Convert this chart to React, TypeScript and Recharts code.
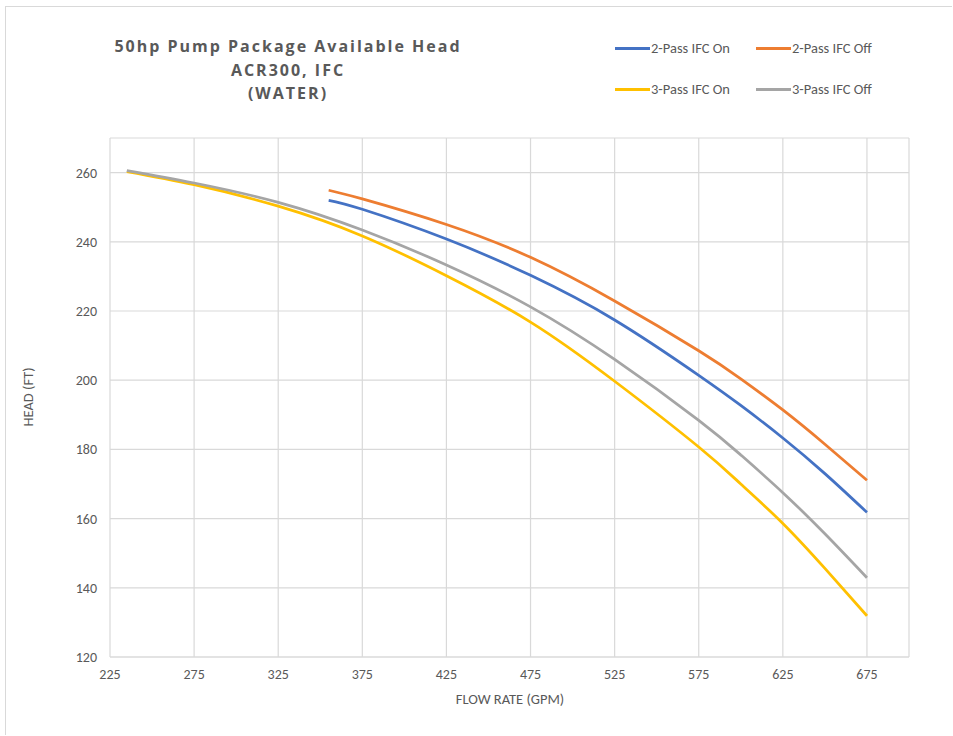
import { LineChart, Line, XAxis, YAxis, CartesianGrid } from 'recharts'

// axis ticks
const flowTicks = [225, 275, 325, 375, 425, 475, 525, 575, 625, 675]
const headTicks = [120, 140, 160, 180, 200, 220, 240, 260]

// 2-pass curves
const twoPassFlow = [355, 375, 425, 475, 525, 575, 600, 625, 650, 675]
const twoPassOnHead = [252.0, 249.4, 240.8, 230.3, 217.4, 201.4, 192.7, 183.3, 173.0, 161.8]
const twoPassOffHead = [254.9, 252.4, 245.0, 235.5, 222.9, 208.5, 200.4, 191.4, 181.5, 171.1]

// 3-pass curves
const threePassFlow = [235, 275, 325, 375, 425, 475, 525, 575, 600, 625, 650, 675]
const threePassOnHead = [260.3, 256.5, 250.3, 241.7, 230.2, 216.8, 199.7, 180.7, 170.0, 158.6, 145.6, 131.9]
const threePassOffHead = [260.6, 257.0, 251.4, 243.4, 233.3, 221.2, 206.0, 188.4, 178.4, 167.5, 155.6, 142.9]

const zip = (xs: number[], ys: number[]) => xs.map((x, i) => ({ flow: x, head: ys[i] }))

const series = [
  { name: '2-Pass IFC On', color: '#4472C4', data: zip(twoPassFlow, twoPassOnHead) },
  { name: '2-Pass IFC Off', color: '#ED7D31', data: zip(twoPassFlow, twoPassOffHead) },
  { name: '3-Pass IFC On', color: '#FFC000', data: zip(threePassFlow, threePassOnHead) },
  { name: '3-Pass IFC Off', color: '#A5A5A5', data: zip(threePassFlow, threePassOffHead) },
]

const textColor = '#595959'
const font = "Calibri, Carlito, 'Liberation Sans', Arial, sans-serif"

// legend slots (2 x 2)
const legendPos = [
  { left: 615, top: 48 },
  { left: 756, top: 48 },
  { left: 615, top: 89 },
  { left: 756, top: 89 },
]

export default function App(){
  const tick = { fill: textColor, fontSize: 14, fontFamily: font }
  return (
    <div style={{ position: 'absolute', left: 0, top: 0, width: 953, height: 736, background: '#fff', overflow: 'hidden' }}>
      <div style={{ position: 'absolute', left: 5, top: 6, width: 946, height: 728, borderLeft: '1px solid #d9d9d9', borderTop: '1px solid #d9d9d9' }} />

      <div style={{ position: 'absolute', left: 78, top: 35, width: 420, textAlign: 'center', color: textColor,
        fontFamily: "'Open Sans', sans-serif", fontWeight: 700, fontSize: 16, letterSpacing: 2, lineHeight: '23.5px' }}>
        <div>50hp Pump Package Available Head</div>
        <div>ACR300, IFC</div>
        <div>(WATER)</div>
      </div>

      {series.map((s, i) => (
        <div key={s.name} style={{ position: 'absolute', left: legendPos[i].left, top: legendPos[i].top - 9, height: 18,
          display: 'flex', alignItems: 'center', fontFamily: font, fontSize: 14.5, color: textColor, whiteSpace: 'nowrap' }}>
          <span style={{ display: 'inline-block', width: 35, height: 3, background: s.color, marginRight: 1 }} />
          <span>{s.name}</span>
        </div>
      ))}

      <div style={{ position: 'absolute', left: 28, top: 397, transform: 'translate(-50%,-50%) rotate(-90deg)',
        fontFamily: font, fontSize: 14.5, color: textColor, whiteSpace: 'nowrap' }}>HEAD (FT)</div>
      <div style={{ position: 'absolute', left: 510, top: 699, transform: 'translate(-50%,-50%)',
        fontFamily: font, fontSize: 14.5, color: textColor, whiteSpace: 'nowrap' }}>FLOW RATE (GPM)</div>

      <div style={{ position: 'absolute', left: 0, top: 0 }}>
        <LineChart width={953} height={736} margin={{ top: 138, right: 44, bottom: 49, left: 50 }}>
          <CartesianGrid stroke="#d9d9d9" strokeWidth={1.2} />
          <XAxis dataKey="flow" type="number" domain={[225, 700]} ticks={flowTicks} allowDuplicatedCategory={false}
            height={30} tick={tick} tickLine={false} tickSize={0} tickMargin={12} axisLine={{ stroke: '#d9d9d9', strokeWidth: 1.2 }} />
          <YAxis type="number" domain={[120, 270]} ticks={headTicks} width={60}
            tick={tick} tickLine={false} tickSize={0} tickMargin={13} axisLine={false} />
          {series.map(s => (
            <Line key={s.name} data={s.data} dataKey="head" name={s.name} type="natural" stroke={s.color}
              strokeWidth={2.75} dot={false} isAnimationActive={false} />
          ))}
        </LineChart>
      </div>
    </div>
  )
}
